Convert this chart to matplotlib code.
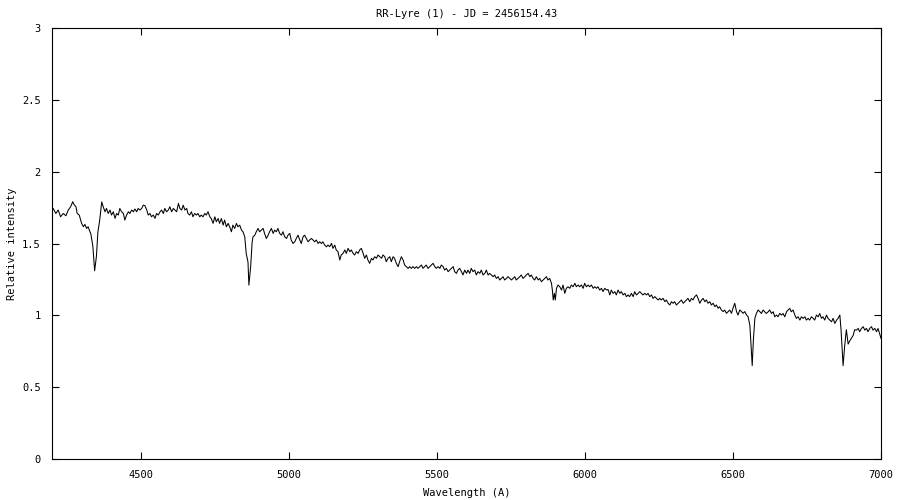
import matplotlib
matplotlib.use("Agg")
import matplotlib.pyplot as plt
from matplotlib.ticker import FuncFormatter

# (wavelength in A, relative intensity), by spectral region
seg_hgamma = [(4200, 1.73), (4204, 1.744), (4213, 1.709), (4221, 1.733), (4229, 1.686), (4238, 1.709),
              (4247, 1.693), (4255, 1.733), (4263, 1.756), (4270, 1.791), (4274, 1.772), (4281, 1.756),
              (4285, 1.709), (4292, 1.698), (4300, 1.640), (4306, 1.617), (4311, 1.633), (4317, 1.605),
              (4322, 1.617), (4328, 1.582), (4331, 1.57), (4338, 1.48), (4344, 1.31), (4350, 1.41),
              (4355, 1.58), (4361, 1.66), (4368, 1.79), (4373, 1.756), (4379, 1.721), (4384, 1.744),
              (4390, 1.709), (4396, 1.733), (4401, 1.698), (4407, 1.721), (4413, 1.675), (4418, 1.709),
              (4424, 1.698), (4429, 1.744), (4435, 1.721), (4441, 1.709), (4446, 1.663), (4452, 1.698),
              (4458, 1.721), (4463, 1.709), (4469, 1.733), (4475, 1.721), (4480, 1.740), (4486, 1.721),
              (4491, 1.744), (4497, 1.733), (4503, 1.744), (4508, 1.767), (4514, 1.763), (4520, 1.733),
              (4525, 1.698), (4531, 1.709), (4536, 1.686), (4542, 1.698), (4548, 1.675), (4553, 1.709),
              (4559, 1.698), (4565, 1.721), (4570, 1.733), (4576, 1.709), (4581, 1.744), (4587, 1.721),
              (4593, 1.733), (4598, 1.756), (4604, 1.721), (4610, 1.744), (4615, 1.733), (4621, 1.721),
              (4627, 1.779), (4632, 1.744), (4638, 1.733), (4643, 1.767), (4649, 1.733), (4655, 1.744)]

seg_hbeta = [(4659, 1.709), (4665, 1.698), (4671, 1.721), (4676, 1.686), (4682, 1.709), (4688, 1.698),
             (4693, 1.709), (4699, 1.686), (4704, 1.698), (4710, 1.686), (4716, 1.709), (4721, 1.698),
             (4727, 1.721), (4733, 1.686), (4738, 1.674), (4744, 1.640), (4750, 1.686), (4755, 1.651),
             (4761, 1.674), (4766, 1.640), (4772, 1.674), (4778, 1.628), (4783, 1.663), (4789, 1.616),
             (4795, 1.640), (4800, 1.616), (4806, 1.582), (4811, 1.628), (4817, 1.605), (4823, 1.640),
             (4828, 1.616), (4834, 1.628), (4840, 1.593), (4845, 1.582), (4851, 1.547), (4856, 1.43),
             (4862, 1.37), (4865, 1.21), (4871, 1.34), (4876, 1.51), (4879, 1.547), (4885, 1.558),
             (4890, 1.582), (4896, 1.605), (4901, 1.582), (4907, 1.593), (4913, 1.605), (4918, 1.570),
             (4924, 1.535), (4930, 1.558), (4935, 1.582), (4941, 1.605), (4947, 1.570), (4952, 1.593),
             (4958, 1.582), (4963, 1.605), (4969, 1.570), (4975, 1.558), (4980, 1.582), (4986, 1.547),
             (4992, 1.535), (4997, 1.558), (5003, 1.570), (5008, 1.524), (5014, 1.500), (5020, 1.512),
             (5025, 1.535), (5031, 1.558), (5037, 1.524), (5042, 1.500), (5048, 1.547), (5053, 1.558),
             (5059, 1.535), (5065, 1.512), (5070, 1.524), (5076, 1.535), (5082, 1.524), (5087, 1.512),
             (5093, 1.524), (5099, 1.500), (5104, 1.512), (5110, 1.500), (5115, 1.512), (5121, 1.489),
             (5127, 1.477)]

seg_green = [(5132, 1.489), (5138, 1.478), (5144, 1.501), (5149, 1.466), (5155, 1.489), (5160, 1.455),
             (5166, 1.443), (5172, 1.385), (5177, 1.420), (5183, 1.431), (5189, 1.455), (5194, 1.431),
             (5200, 1.466), (5206, 1.443), (5211, 1.455), (5217, 1.431), (5222, 1.420), (5228, 1.443),
             (5234, 1.431), (5239, 1.455), (5245, 1.466), (5251, 1.431), (5256, 1.397), (5262, 1.420),
             (5267, 1.385), (5273, 1.362), (5279, 1.397), (5284, 1.385), (5290, 1.408), (5296, 1.397),
             (5301, 1.420), (5307, 1.408), (5313, 1.397), (5318, 1.420), (5324, 1.408), (5329, 1.373),
             (5335, 1.397), (5341, 1.408), (5346, 1.373), (5352, 1.408), (5357, 1.397), (5363, 1.362),
             (5369, 1.339), (5374, 1.373), (5380, 1.408), (5386, 1.385), (5391, 1.350), (5397, 1.339),
             (5403, 1.327), (5408, 1.339), (5414, 1.327), (5419, 1.339), (5425, 1.327), (5431, 1.339),
             (5436, 1.327), (5442, 1.339), (5448, 1.350), (5453, 1.327), (5459, 1.339), (5464, 1.350),
             (5470, 1.327), (5476, 1.339), (5481, 1.350), (5487, 1.362), (5493, 1.339), (5498, 1.327),
             (5504, 1.339), (5510, 1.327), (5515, 1.350), (5521, 1.339), (5526, 1.315), (5532, 1.327),
             (5538, 1.304), (5543, 1.315), (5549, 1.327), (5555, 1.339), (5560, 1.304), (5566, 1.292),
             (5571, 1.315), (5577, 1.327), (5583, 1.304), (5588, 1.281), (5594, 1.315), (5600, 1.292)]

seg_sodium = [(5605, 1.315), (5611, 1.292), (5616, 1.327), (5622, 1.304), (5628, 1.315), (5633, 1.281),
              (5639, 1.304), (5645, 1.292), (5650, 1.315), (5656, 1.281), (5662, 1.292), (5667, 1.315),
              (5673, 1.281), (5678, 1.292), (5684, 1.281), (5690, 1.269), (5695, 1.281), (5701, 1.257),
              (5707, 1.269), (5712, 1.246), (5718, 1.257), (5723, 1.269), (5729, 1.246), (5735, 1.257),
              (5740, 1.269), (5746, 1.257), (5752, 1.246), (5757, 1.257), (5763, 1.269), (5768, 1.246),
              (5774, 1.257), (5780, 1.269), (5785, 1.281), (5791, 1.257), (5797, 1.269), (5802, 1.281),
              (5808, 1.292), (5814, 1.269), (5819, 1.281), (5825, 1.257), (5830, 1.246), (5836, 1.269),
              (5842, 1.246), (5847, 1.257), (5853, 1.234), (5859, 1.246), (5864, 1.257), (5870, 1.269),
              (5875, 1.246), (5881, 1.257), (5887, 1.223), (5890, 1.176), (5893, 1.107), (5897, 1.153),
              (5900, 1.107), (5904, 1.188), (5909, 1.211), (5915, 1.199), (5921, 1.176), (5926, 1.211),
              (5932, 1.153), (5937, 1.188), (5943, 1.199), (5949, 1.188), (5954, 1.211), (5960, 1.199),
              (5966, 1.223), (5971, 1.199), (5977, 1.211), (5982, 1.199), (5988, 1.211), (5994, 1.188),
              (5999, 1.223), (6005, 1.199), (6011, 1.211), (6016, 1.199), (6022, 1.211), (6028, 1.188),
              (6033, 1.199), (6039, 1.188), (6044, 1.199), (6050, 1.176), (6056, 1.188), (6061, 1.165),
              (6067, 1.188), (6073, 1.176), (6078, 1.180)]

seg_halpha = [(6084, 1.142), (6089, 1.176), (6095, 1.153), (6101, 1.165), (6106, 1.142), (6112, 1.176),
              (6118, 1.153), (6123, 1.165), (6129, 1.142), (6135, 1.153), (6140, 1.130), (6146, 1.142),
              (6151, 1.130), (6157, 1.153), (6163, 1.130), (6168, 1.165), (6174, 1.142), (6180, 1.153),
              (6185, 1.165), (6191, 1.153), (6196, 1.142), (6202, 1.153), (6208, 1.142), (6213, 1.153),
              (6219, 1.130), (6225, 1.142), (6230, 1.118), (6236, 1.130), (6242, 1.118), (6247, 1.107),
              (6253, 1.118), (6258, 1.107), (6264, 1.118), (6270, 1.095), (6275, 1.107), (6281, 1.084),
              (6287, 1.072), (6292, 1.095), (6298, 1.084), (6303, 1.095), (6309, 1.072), (6315, 1.084),
              (6320, 1.095), (6326, 1.107), (6332, 1.084), (6337, 1.095), (6343, 1.107), (6348, 1.118),
              (6354, 1.095), (6360, 1.118), (6365, 1.107), (6371, 1.130), (6377, 1.142), (6382, 1.118),
              (6388, 1.084), (6394, 1.107), (6399, 1.118), (6405, 1.095), (6410, 1.107), (6416, 1.084),
              (6422, 1.095), (6427, 1.072), (6433, 1.084), (6439, 1.060), (6444, 1.072), (6450, 1.049),
              (6455, 1.060), (6461, 1.037), (6467, 1.026), (6472, 1.037), (6478, 1.014), (6484, 1.026),
              (6489, 1.037), (6495, 1.014), (6500, 1.049), (6506, 1.084), (6512, 1.026), (6517, 1.002),
              (6523, 1.037), (6529, 1.026), (6534, 1.014), (6540, 1.026), (6546, 1.002), (6551, 0.991),
              (6557, 0.93), (6560, 0.83), (6565, 0.65), (6569, 0.83), (6574, 0.979)]

seg_red = [(6579, 1.013), (6585, 1.037), (6591, 1.025), (6596, 1.013), (6602, 1.037), (6607, 1.025),
           (6613, 1.013), (6619, 1.025), (6624, 1.037), (6630, 1.013), (6636, 1.025), (6641, 0.990),
           (6647, 1.002), (6652, 0.990), (6658, 1.013), (6664, 1.002), (6669, 1.013), (6675, 0.990),
           (6681, 1.025), (6686, 1.037), (6692, 1.048), (6697, 1.025), (6703, 1.037), (6709, 1.002),
           (6714, 0.979), (6720, 0.990), (6726, 0.967), (6731, 0.990), (6737, 0.979), (6743, 0.990),
           (6748, 0.967), (6754, 0.979), (6759, 0.967), (6765, 0.990), (6771, 0.979), (6776, 0.967),
           (6782, 1.002), (6788, 0.990), (6793, 1.013), (6799, 0.979), (6804, 0.990), (6810, 0.967),
           (6816, 1.002), (6821, 0.979), (6827, 0.967), (6833, 0.955), (6838, 0.979), (6844, 0.944),
           (6850, 0.967), (6855, 0.979), (6861, 1.002), (6865, 0.90), (6872, 0.65), (6877, 0.78),
           (6883, 0.90), (6889, 0.80), (6894, 0.82), (6900, 0.84), (6906, 0.86), (6911, 0.90),
           (6917, 0.897), (6923, 0.909), (6928, 0.886), (6934, 0.909), (6940, 0.921), (6945, 0.897),
           (6951, 0.909), (6956, 0.886), (6962, 0.909), (6968, 0.921), (6973, 0.897), (6979, 0.909),
           (6985, 0.886), (6990, 0.909), (6997, 0.86), (7000, 0.84)]

segments = [seg_hgamma, seg_hbeta, seg_green, seg_sodium, seg_halpha, seg_red]

xticks = [4500, 5000, 5500, 6000, 6500, 7000]
yticks = [0, 0.5, 1, 1.5, 2, 2.5, 3]

wavelength = [w for seg in segments for w, _ in seg]
intensity = [v for seg in segments for _, v in seg]

plt.rcParams['font.family'] = ['DejaVu Sans Mono']
fig = plt.figure(figsize=(9, 5), dpi=100)
ax = fig.add_axes([52/900, 41/500, 829/900, 431/500])
ax.plot(wavelength, intensity, color='black', lw=0.75)
ax.set_xlim(4200, 7000)
ax.set_ylim(0, 3)
ax.set_xticks(xticks)
ax.set_yticks(yticks)
ax.yaxis.set_major_formatter(FuncFormatter(lambda v, p: f"{v:g}"))
ax.tick_params(direction='in', length=5, width=0.8, top=True, right=True, labelsize=7.5, pad=8)
for s in ax.spines.values():
    s.set_linewidth(0.8)
ax.set_title("RR-Lyre (1) - JD = 2456154.43", fontsize=7.5, pad=8)
ax.set_xlabel("Wavelength (A)", fontsize=7.5, labelpad=6)
ax.set_ylabel("Relative intensity", fontsize=7.5, labelpad=4)
fig.savefig("out.png", dpi=100)
